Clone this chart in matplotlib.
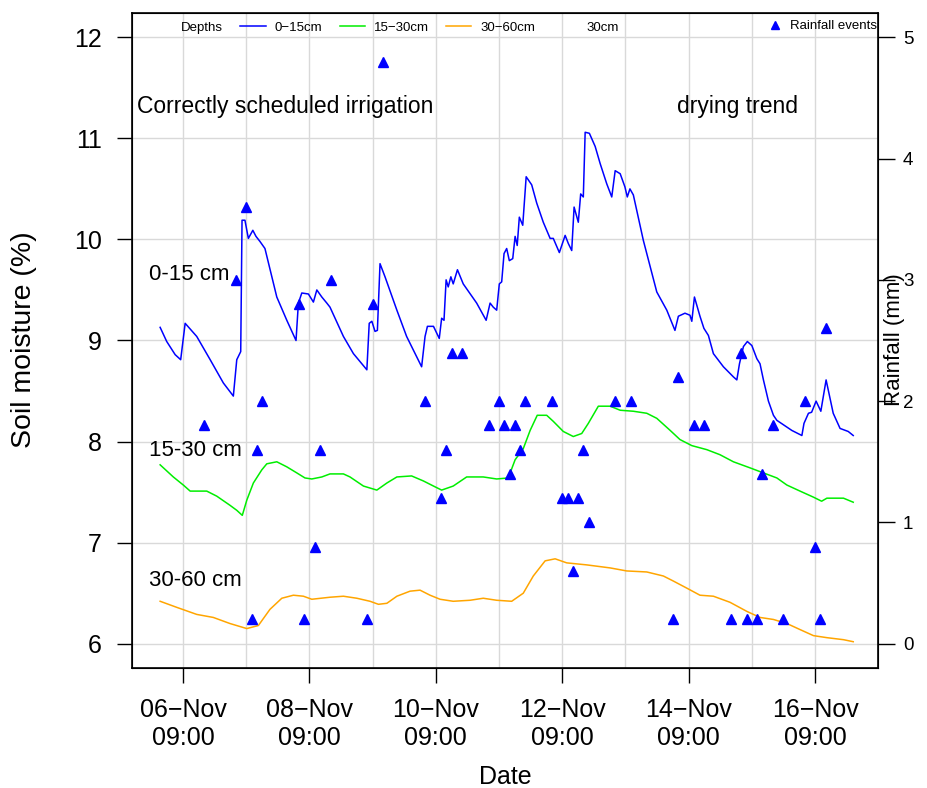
import numpy as np
import pandas as pd
import matplotlib
matplotlib.use("Agg")
import matplotlib.pyplot as plt
import matplotlib.dates as mdates
from matplotlib.lines import Line2D
from matplotlib.ticker import FixedLocator

plt.rcParams["font.family"] = ["Liberation Sans", "DejaVu Sans"]

START = pd.Timestamp("2023-11-06 00:00")

# soil moisture (%) against hours after 06-Nov 00:00
hours_0_15 = [0.3, 2.8, 6.0, 8.1, 9.8, 14.2, 19.3, 24.3, 28.1, 29.4, 30.9, 31.4, 32.5, 33.8,
              35.5, 36.7, 38.2, 40.1, 44.6, 48.4, 51.9, 52.8, 54.1, 56.6, 58.5, 59.8, 61.7,
              63.6, 64.8, 69.9, 73.7, 78.8, 79.7, 80.7, 81.9, 82.8, 83.8, 85.7, 90.2, 93.9,
              99.6, 100.9, 101.8, 104.1, 106.3, 107.2, 108.1, 108.9, 109.7, 110.7, 111.6,
              113.2, 115.4, 120.5, 124.1, 125.6, 126.8, 128.1, 129.1, 130.0, 130.9, 131.9,
              132.9, 134.2, 135.1, 135.9, 136.7, 138.0, 139.3, 141.4, 143.3, 145.8, 148.4,
              149.6, 151.9, 154.1, 155.3, 156.6, 157.5, 159.1, 160.0, 161.0, 161.7, 163.3,
              165.5, 167.4, 169.9, 171.8, 173.1, 175.0, 176.8, 177.7, 178.7, 180.0, 183.8,
              188.9, 192.7, 195.8, 197.1, 199.6, 201.5, 202.2, 203.2, 205.3, 206.8, 208.5,
              210.4, 214.2, 218.0, 219.3, 220.3, 221.8, 223.3, 225.0, 226.9, 228.1, 229.4,
              231.3, 233.2, 234.5, 240.2, 244.0, 244.8, 246.5, 247.7, 249.4, 251.2, 253.2,
              255.9, 258.5, 261.6, 263.5]
sm_0_15 = [9.13, 8.99, 8.86, 8.81, 9.17, 9.04, 8.81, 8.58, 8.45, 8.81, 8.89, 10.19, 10.19,
           10.01, 10.09, 10.03, 9.98, 9.91, 9.43, 9.20, 9.00, 9.37, 9.47, 9.46, 9.38, 9.50,
           9.43, 9.37, 9.33, 9.04, 8.87, 8.71, 9.17, 9.19, 9.09, 9.10, 9.76, 9.63, 9.30, 9.04,
           8.74, 9.04, 9.14, 9.14, 9.02, 9.22, 9.20, 9.60, 9.53, 9.63, 9.56, 9.70, 9.56, 9.37,
           9.20, 9.37, 9.33, 9.30, 9.56, 9.58, 9.86, 9.91, 9.79, 9.81, 10.03, 9.94, 10.22,
           10.14, 10.62, 10.54, 10.36, 10.17, 10.01, 10.01, 9.87, 10.04, 9.96, 9.89, 10.32,
           10.17, 10.45, 10.42, 11.06, 11.05, 10.92, 10.75, 10.55, 10.42, 10.68, 10.65, 10.52,
           10.42, 10.50, 10.44, 9.99, 9.48, 9.30, 9.10, 9.24, 9.27, 9.25, 9.19, 9.43, 9.24,
           9.12, 9.05, 8.87, 8.74, 8.64, 8.61, 8.77, 8.94, 8.99, 8.95, 8.82, 8.77, 8.61, 8.40,
           8.26, 8.21, 8.11, 8.06, 8.18, 8.28, 8.29, 8.40, 8.30, 8.61, 8.28, 8.13, 8.10, 8.06]

hours_15_30 = [0.3, 5.3, 9.1, 11.7, 18.0, 21.8, 26.8, 29.4, 31.5, 33.2, 35.7, 38.9, 40.8,
               44.6, 48.4, 52.2, 55.3, 57.9, 61.7, 64.8, 69.9, 72.4, 77.5, 82.6, 86.4, 90.2,
               95.8, 100.3, 104.1, 107.2, 111.6, 116.7, 123.0, 128.1, 132.5, 135.1, 138.2,
               140.8, 143.5, 147.1, 149.6, 153.4, 157.2, 160.4, 162.9, 166.7, 171.2, 175.0,
               180.0, 185.1, 188.9, 194.0, 197.7, 202.2, 207.9, 212.9, 218.0, 224.3, 229.4,
               234.5, 238.3, 243.3, 248.4, 251.5, 253.5, 259.8, 263.5]
sm_15_30 = [7.77, 7.65, 7.57, 7.51, 7.51, 7.46, 7.37, 7.32, 7.27, 7.42, 7.59, 7.72, 7.78,
            7.80, 7.75, 7.69, 7.64, 7.63, 7.65, 7.68, 7.68, 7.65, 7.56, 7.52, 7.59, 7.65, 7.66,
            7.61, 7.56, 7.52, 7.56, 7.65, 7.65, 7.63, 7.64, 7.82, 7.93, 8.11, 8.26, 8.26, 8.20,
            8.10, 8.05, 8.08, 8.18, 8.35, 8.35, 8.31, 8.30, 8.28, 8.23, 8.11, 8.02, 7.96, 7.92,
            7.87, 7.80, 7.74, 7.69, 7.64, 7.57, 7.51, 7.45, 7.41, 7.44, 7.44, 7.40]

hours_30_60 = [0.3, 6.6, 14.2, 20.5, 26.8, 33.2, 37.6, 42.0, 46.5, 50.9, 54.7, 57.9, 64.8,
               69.9, 75.0, 80.0, 83.2, 86.4, 90.2, 95.2, 99.0, 102.8, 106.6, 111.6, 118.0,
               123.0, 128.1, 133.8, 138.2, 142.0, 146.5, 150.3, 154.7, 162.3, 171.2, 177.5,
               185.1, 191.4, 195.2, 200.3, 205.3, 210.4, 216.7, 223.1, 228.1, 233.2, 238.3,
               243.3, 248.4, 253.5, 259.8, 263.5]
sm_30_60 = [6.42, 6.36, 6.29, 6.26, 6.20, 6.15, 6.18, 6.34, 6.45, 6.48, 6.47, 6.44, 6.46,
            6.47, 6.45, 6.42, 6.39, 6.40, 6.47, 6.52, 6.53, 6.48, 6.44, 6.42, 6.43, 6.45, 6.43,
            6.42, 6.50, 6.67, 6.82, 6.84, 6.80, 6.78, 6.75, 6.72, 6.71, 6.67, 6.62, 6.55, 6.48,
            6.47, 6.41, 6.32, 6.26, 6.24, 6.20, 6.14, 6.08, 6.06, 6.04, 6.02]

# rainfall events (mm)
rain_hours = [17, 29, 33, 35, 37, 39, 53, 55, 59, 61, 65, 79, 81, 85, 101, 107, 109, 111,
              115, 125, 129, 131, 133, 135, 137, 139, 149, 153, 155, 157, 159, 161, 163, 173,
              179, 195, 197, 203, 207, 217, 221, 223, 227, 229, 233, 237, 245, 249, 251, 253]
rain_mm = [1.8, 3.0, 3.6, 0.2, 1.6, 2.0, 2.8, 0.2, 0.8, 1.6, 3.0, 0.2, 2.8, 4.8, 2.0, 1.2,
           1.6, 2.4, 2.4, 1.8, 2.0, 1.8, 1.4, 1.8, 1.6, 2.0, 2.0, 1.2, 1.2, 0.6, 1.2, 1.6, 1.0,
           2.0, 2.0, 0.2, 2.2, 1.8, 1.8, 0.2, 2.4, 0.2, 0.2, 1.4, 1.8, 0.2, 2.0, 0.8, 0.2, 2.6]

depth_labels = ["0\u221215cm", "15\u221230cm", "30\u221260cm"]
depth_colors = ["#0000FF", "#00EE00", "#FFA500"]


def to_time(h):
    return START + pd.to_timedelta(np.asarray(h, dtype=float), unit="h")


def t1(h):
    return START + pd.Timedelta(hours=h)


fig = plt.figure(figsize=(9.28, 7.88), dpi=100)
fig.subplots_adjust(left=0.1422, right=0.9461, bottom=0.1523, top=0.9835)
ax = fig.add_subplot(111)

series = [(hours_0_15, sm_0_15), (hours_15_30, sm_15_30), (hours_30_60, sm_30_60)]
for (h, v), c in zip(series, depth_colors):
    ax.plot(to_time(h), v, color=c, lw=1.1, zorder=3)

ax.set_xlim(t1(-10.4), t1(272.9))
ax.set_ylim(5.76, 12.24)
ax.set_yticks(range(6, 13))

tick_times = pd.date_range("2023-11-06 09:00", periods=6, freq="2D")
grid_times = pd.date_range("2023-11-05 09:00", periods=13, freq="D")
ax.set_xticks(tick_times)
ax.set_xticklabels([t.strftime("%d\u2212%b\n%H:%M") for t in tick_times])
ax.xaxis.set_minor_locator(FixedLocator(mdates.date2num(grid_times)))
ax.grid(axis="x", which="both", color="#D9D9D9", lw=1)
ax.grid(axis="y", which="major", color="#D9D9D9", lw=1)
ax.set_axisbelow(True)
ax.tick_params(axis="both", which="major", labelsize=18, length=10.5, width=1, pad=11)
ax.tick_params(axis="x", which="minor", length=0)
for s in ax.spines.values():
    s.set_linewidth(1.2)

ax2 = ax.twinx()
ax2.plot(to_time(rain_hours), rain_mm, ls="none", marker="^", ms=6.5, color="#0000FF",
         zorder=4)
ax2.set_ylim(-0.2, 5.2)
ax2.set_yticks(range(0, 6))
ax2.tick_params(axis="y", labelsize=13.5, length=12, width=1, pad=6)

# annotations
ax.text(t1(-8.5), 11.25, "Correctly scheduled irrigation", fontsize=16.5,
        va="baseline", ha="left")
ax.text(t1(196.5), 11.25, "drying trend", fontsize=16.5, va="baseline", ha="left")
ax.text(t1(-4.0), 9.60, "0-15 cm", fontsize=16, va="baseline")
ax.text(t1(-4.0), 7.86, "15-30 cm", fontsize=16, va="baseline")
ax.text(t1(-4.0), 6.57, "30-60 cm", fontsize=16, va="baseline")

# axis titles
fig.text(24 / 928, 1 - 340 / 788, "Soil moisture (%)", rotation=90, fontsize=20.5,
         ha="center", va="center")
fig.text(895 / 928, 1 - 340 / 788, "Rainfall (mm)", rotation=90, fontsize=16,
         ha="center", va="center")
fig.text(505 / 928, 1 - 777 / 788, "Date", fontsize=18, ha="center", va="center")

# legends
depth_handles = [Line2D([], [], color="none", label="Depths")]
depth_handles += [Line2D([], [], color=c, lw=1.1, label=l)
                  for c, l in zip(depth_colors, depth_labels)]
depth_handles.append(Line2D([], [], color="none", label="30cm"))
leg1 = ax2.legend(handles=depth_handles, loc="upper left", bbox_to_anchor=(0.0166, 0.991),
                  ncol=5, frameon=False, fontsize=9.5, handlelength=1.9, handletextpad=0.7,
                  columnspacing=1.3, borderpad=0.2, borderaxespad=0)
ax2.add_artist(leg1)
rain_handle = Line2D([], [], ls="none", marker="^", ms=6, color="#0000FF",
                     label="Rainfall events")
ax2.legend(handles=[rain_handle], loc="upper right", bbox_to_anchor=(1.0, 0.991),
           frameon=False, fontsize=9.5, handlelength=1.0, handletextpad=0.6,
           borderpad=0.1, borderaxespad=0)

fig.savefig("out.png", dpi=100)
